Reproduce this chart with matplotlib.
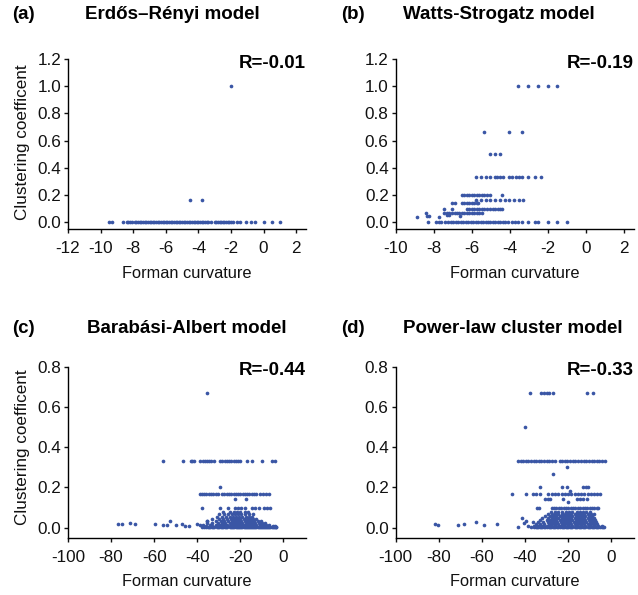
import matplotlib
matplotlib.use("Agg")
import matplotlib.pyplot as plt

plt.rcParams['font.family'] = ['Liberation Sans', 'DejaVu Sans']
plt.rcParams['axes.unicode_minus'] = False

DOT = '#3A56A5'

# ---- (a) Erdos-Renyi ----
er_levels = [0.0, 0.1667, 1.0]
er_rows = [
    [-9.5, -9.3, -8.6, -8.4, -8.3, -8.2, -8.1, -7.9, -7.8, -7.7, -7.6, -7.5, -7.4, -7.3, -7.2, -7.1,
     -7.0, -6.9, -6.8, -6.7, -6.6, -6.5, -6.4, -6.3, -6.2, -6.1, -6.0, -5.9, -5.8, -5.7, -5.6, -5.5,
     -5.4, -5.3, -5.2, -5.1, -5.0, -4.9, -4.8, -4.7, -4.6, -4.5, -4.4, -4.3, -4.2, -4.1, -4.0, -3.9,
     -3.8, -3.7, -3.6, -3.5, -3.4, -3.2, -3.0, -2.9, -2.8, -2.7, -2.6, -2.5, -2.4, -2.3, -2.2, -2.1,
     -2.0, -1.9, -1.65, -1.45, -1.05, -0.75, -0.55, 0.0, 0.5, 1.0],
    [-4.51, -3.76],
    [-2.0],
]
er_extra_x = []
er_extra_y = []

# ---- (b) Watts-Strogatz ----
ws_levels = [1.0, 0.667, 0.5, 0.333, 0.2, 0.1667, 0.143, 0.1, 0.0714, 0.0]
ws_rows = [
    [-3.56, -3.03, -2.5, -2.01, -1.52],
    [-5.34, -4.03, -3.35],
    [-5.04, -4.78, -4.52],
    [-5.78, -5.53, -5.27, -5.04, -4.78, -4.66, -4.52, -4.34, -4.03, -3.9, -3.68, -3.52, -3.35,
     -3.03, -2.68, -2.36],
    [-6.53, -6.4, -6.27, -6.14, -6.0, -5.87, -5.74, -5.6, -5.47, -5.34, -5.2, -5.04, -4.43],
    [-5.78, -5.53, -5.27, -5.04, -4.78, -4.52, -4.27, -4.03, -3.78, -3.52, -3.29],
    [-7.03, -6.9, -6.53, -6.4, -6.27, -6.14, -6.0, -5.87, -5.74, -5.67],
    [-7.45, -7.03, -6.27, -6.14, -6.0, -5.87, -5.74, -5.6, -5.47, -5.34, -5.2, -5.04, -4.9,
     -4.78, -4.65, -4.52, -4.43],
    [-8.42, -7.45, -7.32, -7.2, -7.03, -6.9, -6.78, -6.65, -6.53, -6.4, -6.27, -6.14, -6.0,
     -5.87, -5.74, -5.6, -5.48],
    [-8.29, -7.9, -7.75, -7.6, -7.41, -7.24, -7.1, -6.97, -6.84, -6.71, -6.58, -6.45, -6.32,
     -6.19, -6.06, -5.93, -5.8, -5.67, -5.54, -5.41, -5.28, -5.15, -5.02, -4.89, -4.76, -4.63,
     -4.5, -4.37, -4.26, -4.08, -3.9, -3.75, -3.6, -3.38, -3.03, -2.68, -2.5, -2.02, -1.54, -1.01],
]
ws_extra_x = [-8.9, -8.35, -8.25, -7.74, -7.32, -7.2, -6.62]
ws_extra_y = [0.039, 0.045, 0.045, 0.04, 0.05, 0.05, 0.046]

# ---- (c) Barabasi-Albert ----
ba_levels = [0.667, 0.333, 0.2, 0.1667, 0.143, 0.1,
             0.08, 0.067, 0.055, 0.045, 0.035, 0.025, 0.015, 0.008, 0.002]
ba_rows = [
    [-35.5],
    [-55.7, -46.7, -43.0, -42.3, -41.7, -38.6, -37.5, -36.5, -35.5, -34.5, -33.5, -32.4, -29.3,
     -28.3, -27.3, -26.3, -25.2, -24.2, -23.1, -22.1, -21.0, -20.0, -16.9, -14.6, -9.9, -5.3, -3.7],
    [-29.3],
    [-38.9, -37.8, -36.8, -35.7, -34.6, -33.6, -32.5, -31.5, -30.4, -28.5, -27.4, -26.3, -25.2,
     -24.2, -23.1, -22.1, -21.0, -20.0, -18.9, -17.9, -16.8, -15.8, -14.7, -13.6, -12.6, -11.0,
     -9.5, -8.0, -6.8],
    [-22.3, -17.2],
    [-37.8, -29.3, -25.5, -22.3, -21.0, -19.5, -17.7, -14.6, -13.0, -11.5, -9.2, -7.5, -6.0],
    [-28, -25, -23, -21.5, -20, -18, -16.5],
    [-30, -27.5, -25.5, -24, -22.5, -21, -19.5, -18, -16, -14],
    [-31, -28.5, -26.5, -25, -23.5, -22, -20.5, -19, -17.5, -16, -14.5],
    [-33, -30, -28, -26, -24.5, -23, -21.5, -20, -18.5, -17, -15.5, -14, -12.5],
    [-35.5, -31.5, -29, -27.5, -25.5, -24, -22.5, -21, -19.5, -18, -16.5, -15, -13.5, -12, -10.5],
    [-35.5, -33, -30.5, -28.5, -27, -25, -23.5, -22, -20.5, -19, -17.5, -16, -14.5, -13, -11.5,
     -10, -8.5],
    [-37.1, -34, -31.5, -29.5, -28, -26, -24.5, -23, -21.5, -20, -18.5, -17, -15.5, -14, -12.5,
     -11, -9.5, -8, -6.5],
    [-36, -33, -31, -29, -27, -25, -23, -21, -19, -17, -15, -13, -11, -9, -7, -5, -4],
    [-38, -37, -36, -35, -34.5, -34, -33, -32.5, -32, -31, -30.5, -30, -29, -28.5, -28, -27,
     -26.5, -26, -25, -24.5, -24, -23.5, -23, -22, -21.5, -21, -20.5, -20, -19.5, -19, -18.5,
     -18, -17.5, -17, -16.5, -16, -15.5, -15, -14.5, -14, -13.5, -13, -12.5, -12, -11.5, -11,
     -10.5, -10, -9.5, -9, -8.5, -8, -7.5, -7, -6.5, -6, -5.5, -5, -4.5, -4, -3.5, -3.2],
]
ba_extra_x = [-76.6, -75.0, -71.2, -68.8, -59.5, -55.7, -54.1, -52.6, -49.8, -47.1, -45.6,
              -44.0, -40.1, -38.6, -35.5]
ba_extra_y = [0.018, 0.018, 0.025, 0.02, 0.018, 0.015, 0.015, 0.035, 0.015, 0.018, 0.008,
              0.008, 0.018, 0.015, 0.035]

# ---- (d) Power-law cluster ----
plc_levels = [0.667, 0.5, 0.333, 0.3, 0.267, 0.2, 0.182, 0.1667, 0.143, 0.125, 0.1,
              0.08, 0.07, 0.06, 0.05, 0.04, 0.03, 0.02, 0.01, 0.002]
plc_rows = [
    [-37.8, -32.4, -31.2, -30.0, -28.8, -27.0, -11.1, -8.4],
    [-40.1],
    [-43.2, -42.0, -40.8, -39.6, -38.4, -37.2, -36.0, -34.8, -33.6, -32.4, -31.2, -30.0, -28.8,
     -27.6, -26.2, -23.9, -22.7, -21.5, -20.3, -19.1, -17.9, -16.7, -15.5, -13.9, -12.7, -11.5,
     -10.3, -9.1, -7.9, -6.7, -5.5, -4.3, -3.0],
    [-20.4],
    [-27.0],
    [-33.0, -23.0, -20.7, -13.0, -11.7, -10.6],
    [-19.1],
    [-46.2, -39.7, -36.1, -35.0, -33.0, -29.2, -27.5, -26.0, -24.5, -23.0, -21.5, -20.0, -18.5,
     -17.0, -15.5, -14.0, -12.5, -11.0, -9.5, -8.0, -6.5, -5.2],
    [-30.7, -29.5, -28.4, -22.2, -16.0, -14.5, -13.0, -11.4],
    [-19.9],
    [-34.3, -33.4, -27.6, -26.5, -25.4, -24.3, -23.2, -22.1, -21.0, -19.9, -18.8, -17.7, -16.6,
     -15.5, -14.4, -13.3, -12.2, -11.1, -10.0, -8.9, -7.8, -6.6, -6.0],
    [-28, -26, -24.5, -23, -21, -19.5, -18, -16, -14.5, -13, -11.5, -10],
    [-29.5, -27.5, -26, -24.5, -23, -21.5, -20, -18.5, -17, -15.5, -14, -12.5, -11, -9.5, -8],
    [-30.5, -28.5, -27, -25.5, -24, -22.5, -21, -19.5, -18, -16.5, -15, -13.5, -12, -10.5, -9],
    [-32, -29.5, -27.5, -26, -24.5, -23, -21.5, -20, -18.5, -17, -15.5, -14, -12.5, -11, -9.5, -8],
    [-33, -30, -28.5, -27, -25.5, -24, -22.5, -21, -19.5, -18, -16.5, -15, -13.5, -12, -10.5,
     -9, -7.5],
    [-36.5, -34, -31.5, -29.5, -28, -26.5, -25, -23.5, -22, -20.5, -19, -17.5, -16, -14.5, -13,
     -11.5, -10, -8.5, -7],
    [-35, -33, -31, -29, -27.5, -26, -24.5, -23, -21.5, -20, -18.5, -17, -15.5, -14, -12.5, -11,
     -9.5, -8, -6.5],
    [-36, -34, -32, -30, -28, -26, -24, -22, -20, -18, -16, -14, -12, -10, -8, -6, -4.5],
    [-37, -36, -35, -34.5, -34, -33, -32.5, -32, -31, -30.5, -30, -29, -28.5, -28, -27, -26.5,
     -26, -25, -24.5, -24, -23, -22.5, -22, -21, -20.5, -20, -19, -18.5, -18, -17, -16.5, -16,
     -15, -14.5, -14, -13, -12.5, -12, -11, -10.5, -10, -9, -8.5, -8, -7, -6.5, -6, -5, -4.5,
     -4, -3.2],
]
plc_extra_x = [-81.8, -80.2, -70.9, -68.2, -62.9, -58.9, -53.1, -43.1, -41.5, -40.3, -39.5, -38.5]
plc_extra_y = [0.018, 0.015, 0.015, 0.018, 0.028, 0.015, 0.018, 0.002, 0.047, 0.025, 0.035, 0.01]


def flatten(levels, rows, extra_x, extra_y):
    xs, ys = [], []
    for lv, row in zip(levels, rows):
        xs += list(row)
        ys += [lv] * len(row)
    return xs + list(extra_x), ys + list(extra_y)


panels = [
    dict(data=flatten(er_levels, er_rows, er_extra_x, er_extra_y), r='R=-0.01',
         xlim=(-12, 2.6), xticks=range(-12, 3, 2), ylim=(-0.05, 1.2),
         yticks=[0, 0.2, 0.4, 0.6, 0.8, 1.0, 1.2], pos=[0.1066, 0.6151, 0.373, 0.2857]),
    dict(data=flatten(ws_levels, ws_rows, ws_extra_x, ws_extra_y), r='R=-0.19',
         xlim=(-10, 2.5), xticks=range(-10, 3, 2), ylim=(-0.05, 1.2),
         yticks=[0, 0.2, 0.4, 0.6, 0.8, 1.0, 1.2], pos=[0.6202, 0.6151, 0.373, 0.2857]),
    dict(data=flatten(ba_levels, ba_rows, ba_extra_x, ba_extra_y), r='R=-0.44',
         xlim=(-100, 10.5), xticks=range(-100, 1, 20), ylim=(-0.05, 0.8),
         yticks=[0, 0.2, 0.4, 0.6, 0.8], pos=[0.1066, 0.0963, 0.373, 0.2874]),
    dict(data=flatten(plc_levels, plc_rows, plc_extra_x, plc_extra_y), r='R=-0.33',
         xlim=(-100, 10.4), xticks=range(-100, 1, 20), ylim=(-0.05, 0.8),
         yticks=[0, 0.2, 0.4, 0.6, 0.8], pos=[0.6202, 0.0963, 0.373, 0.2874]),
]

fig = plt.figure(figsize=(6.38, 5.95), dpi=100)

for p in panels:
    ax = fig.add_axes(p['pos'])
    xs, ys = p['data']
    ax.scatter(xs, ys, s=7, color=DOT, linewidths=0, zorder=3)
    ax.set_xlim(p['xlim'])
    ax.set_ylim(p['ylim'])
    ax.set_xticks(list(p['xticks']))
    ax.set_yticks(p['yticks'])
    ax.set_yticklabels(['%.1f' % v for v in p['yticks']])
    ax.spines['top'].set_visible(False)
    ax.spines['right'].set_visible(False)
    ax.spines['left'].set_linewidth(1.0)
    ax.spines['bottom'].set_linewidth(1.0)
    ax.tick_params(axis='both', direction='out', length=3, width=1.0, labelsize=12.3,
                   colors='#111111')
    ax.tick_params(axis='x', pad=5.5)
    ax.tick_params(axis='y', pad=2)
    ax.set_xlabel('Forman curvature', fontsize=11.8, labelpad=7, color='#111111')
    ax.text(1.0, 0.975, p['r'], transform=ax.transAxes, ha='right', va='center',
            fontsize=13.5, fontweight='bold')

# panel letters and titles
TS = 13.5
fig.text(12 / 638, 0.9748, '(a)', fontsize=TS, fontweight='bold', ha='left', va='center')
fig.text(172 / 638, 0.9748, 'Erdős–Rényi model', fontsize=TS, fontweight='bold',
         ha='center', va='center')
fig.text(341 / 638, 0.9748, '(b)', fontsize=TS, fontweight='bold', ha='left', va='center')
fig.text(498.5 / 638, 0.9748, 'Watts-Strogatz model', fontsize=TS, fontweight='bold',
         ha='center', va='center')
fig.text(12 / 638, 0.4487, '(c)', fontsize=TS, fontweight='bold', ha='left', va='center')
fig.text(186.7 / 638, 0.4487, 'Barabási-Albert model', fontsize=TS, fontweight='bold',
         ha='center', va='center')
fig.text(341 / 638, 0.4487, '(d)', fontsize=TS, fontweight='bold', ha='left', va='center')
fig.text(512.7 / 638, 0.4487, 'Power-law cluster model', fontsize=TS, fontweight='bold',
         ha='center', va='center')

# y labels only on the left column
fig.text(23 / 638, 1 - 142 / 595, 'Clustering coefficent', fontsize=12.3, rotation=90,
         ha='center', va='center', color='#111111')
fig.text(23 / 638, 1 - 447 / 595, 'Clustering coefficent', fontsize=12.3, rotation=90,
         ha='center', va='center', color='#111111')

plt.savefig('out.png', dpi=100)
